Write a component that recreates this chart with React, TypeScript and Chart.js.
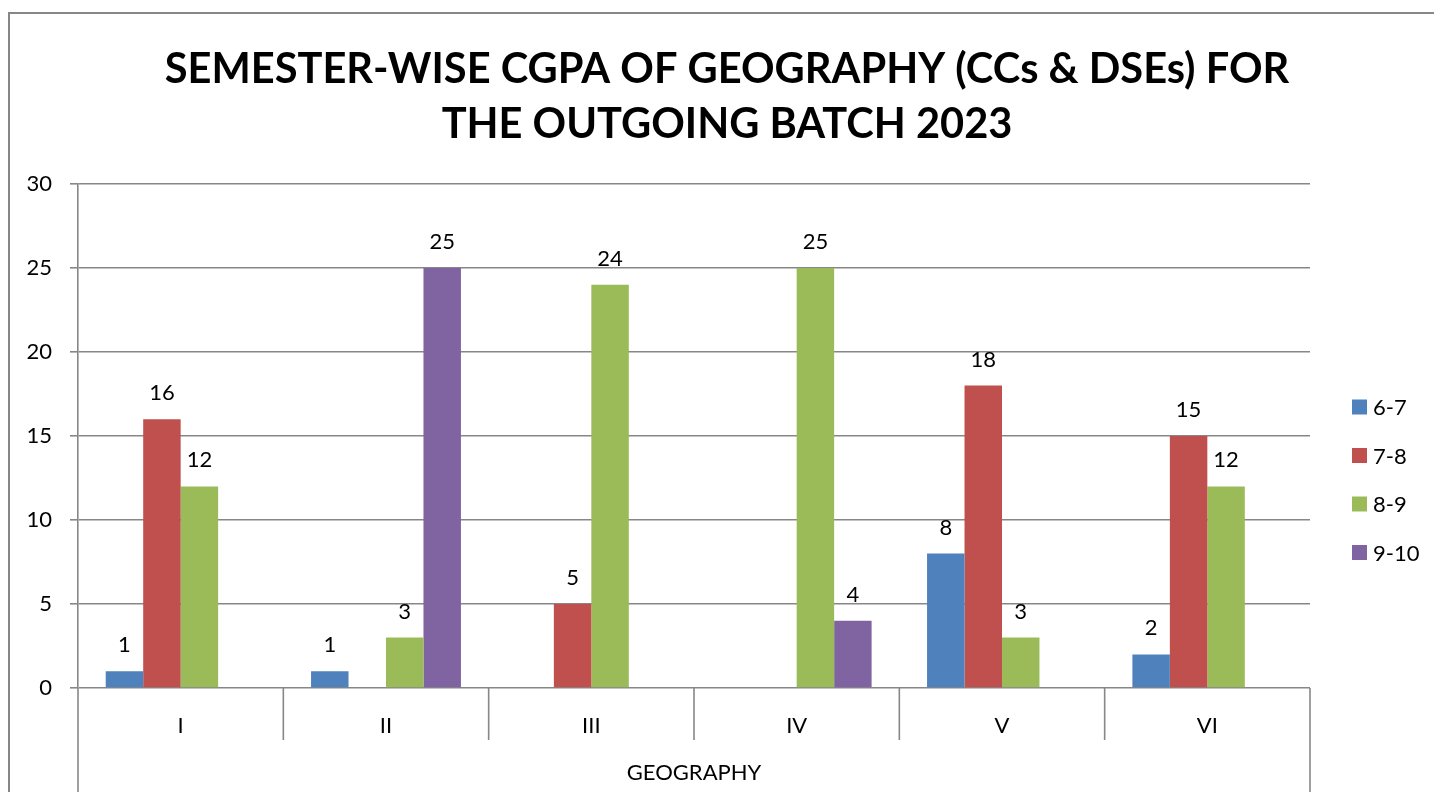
import React, { useEffect, useRef } from "react";
import { Chart, registerables } from "chart.js";

Chart.register(...registerables);

const titleLines = ["SEMESTER-WISE CGPA OF GEOGRAPHY (CCs & DSEs) FOR", "THE OUTGOING BATCH 2023"];
const categories = ["I", "II", "III", "IV", "V", "VI"];
const axisGroupLabel = "GEOGRAPHY";
const seriesLabels = ["6-7", "7-8", "8-9", "9-10"];
const seriesColors = ["#4F81BD", "#C0504D", "#9BBB59", "#8064A2"];
const s67 = [1, 1, null, null, 8, 2];
const s78 = [16, null, 5, null, 18, 15];
const s89 = [12, 3, 24, 25, 3, 12];
const s910 = [null, 25, null, 4, null, null];
const yMin = 0;
const yMax = 30;
const yStep = 5;

const FONT = "Lato, 'Open Sans', sans-serif";
const GRID = "#878787";
const SMALL = 22;

const W = 1440;
const H = 784;

const decorPlugin = {
  id: "decor",
  afterDraw(chart: any) {
    const ctx = chart.ctx;
    const ca = chart.chartArea;
    ctx.save();
    // frame
    ctx.strokeStyle = GRID;
    ctx.lineWidth = 2;
    ctx.beginPath();
    ctx.moveTo(1, H);
    ctx.lineTo(1, 5);
    ctx.lineTo(W + 10, 5);
    ctx.stroke();

    // title
    ctx.fillStyle = "#000";
    ctx.textAlign = "center";
    ctx.textBaseline = "middle";
    let size = 38;
    ctx.font = `bold ${size}px ${FONT}`;
    const w1 = ctx.measureText(titleLines[0]).width;
    size = size * (1125 / w1);
    ctx.font = `bold ${size}px ${FONT}`;
    ctx.fillText(titleLines[0], 719, 62);
    ctx.fillText(titleLines[1], 719, 117);

    // axis extensions
    const n = categories.length;
    const cw = (ca.right - ca.left) / n;
    ctx.strokeStyle = GRID;
    ctx.lineWidth = 1.6;
    ctx.beginPath();
    ctx.moveTo(ca.left, ca.bottom);
    ctx.lineTo(ca.left, H);
    ctx.moveTo(ca.right, ca.bottom);
    ctx.lineTo(ca.right, H);
    for (let k = 1; k < n; k++) {
      const x = ca.left + cw * k;
      ctx.moveTo(x, ca.bottom);
      ctx.lineTo(x, ca.bottom + 52);
    }
    ctx.stroke();

    // group label
    ctx.fillStyle = "#000";
    ctx.font = `${SMALL}px ${FONT}`;
    ctx.textAlign = "center";
    ctx.textBaseline = "middle";
    ctx.fillText(axisGroupLabel, (ca.left + ca.right) / 2, 765);

    // data labels
    chart.data.datasets.forEach((ds: any, i: number) => {
      const meta = chart.getDatasetMeta(i);
      meta.data.forEach((bar: any, j: number) => {
        const v = ds.data[j];
        if (v === null || v === undefined) return;
        ctx.fillText(String(v), bar.x, bar.y - 26);
      });
    });

    // legend
    chart.data.datasets.forEach((ds: any, i: number) => {
      const cy = 399 + i * 48.5;
      ctx.fillStyle = ds.backgroundColor;
      ctx.fillRect(1344, cy - 7.5, 15, 15);
      ctx.fillStyle = "#000";
      ctx.textAlign = "left";
      ctx.fillText(ds.label, 1365, cy + 1);
    });
    ctx.restore();
  },
};

export default function App() {
  const ref = useRef<HTMLCanvasElement>(null);
  useEffect(() => {
    if (!ref.current) return;
    const series = [s67, s78, s89, s910];
    const chart = new Chart(ref.current, {
      type: "bar",
      data: {
        labels: categories,
        datasets: series.map((d, i) => ({
          label: seriesLabels[i],
          data: d,
          backgroundColor: seriesColors[i],
          borderWidth: 0,
          categoryPercentage: 0.73,
          barPercentage: 1,
        })),
      },
      options: {
        responsive: false,
        animation: false,
        layout: { padding: { top: 176, right: 138, left: 0, bottom: 0 } },
        plugins: {
          legend: { display: false },
          title: { display: false },
          tooltip: { enabled: false },
        },
        scales: {
          x: {
            grid: { display: false },
            border: { display: false },
            ticks: { font: { family: FONT, size: SMALL }, color: "#000", padding: 17 },
            afterFit(scale: any) {
              scale.height = 104;
            },
          },
          y: {
            min: yMin,
            max: yMax,
            ticks: { stepSize: yStep, font: { family: FONT, size: SMALL }, color: "#000", padding: 18 },
            grid: { color: GRID, lineWidth: 1.6, tickLength: 8, drawTicks: true },
            border: { display: true, color: GRID, width: 1.6 },
            afterFit(scale: any) {
              scale.width = 70;
            },
          },
        },
      },
      plugins: [decorPlugin],
    } as any);
    return () => chart.destroy();
  }, []);
  return (
    <div style={{ width: 1434, height: H, overflow: "hidden" }}>
      <canvas ref={ref} width={W} height={H} style={{ width: W, height: H, display: "block" }} />
    </div>
  );
}
